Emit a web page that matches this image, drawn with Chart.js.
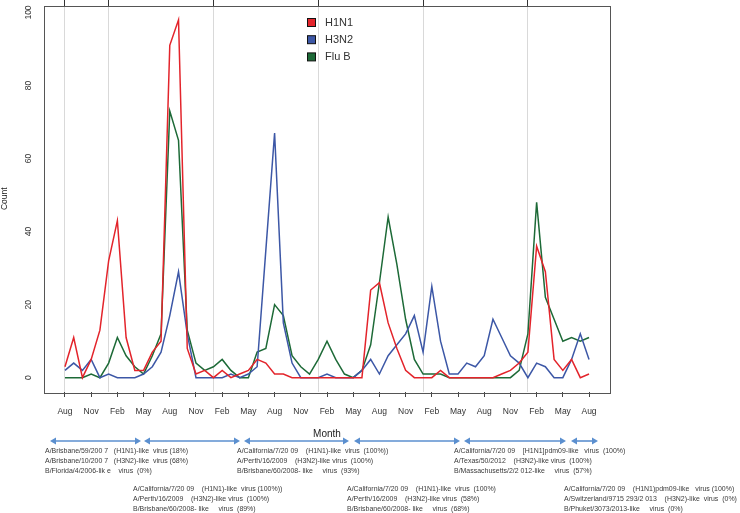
<!DOCTYPE html>
<html><head><meta charset="utf-8">
<script src="https://cdn.jsdelivr.net/npm/chart.js@4/dist/chart.umd.min.js"></script>
<style>html,body{margin:0;padding:0;background:#fff;}#wrap{width:740px;height:513px;}</style>
</head><body><div id="wrap"><canvas id="c" width="740" height="513"></canvas></div>
<script>
// ---- data (monthly, Aug .. Aug, 61 months) ----
const tickLabels = ['Aug','Nov','Feb','May','Aug','Nov','Feb','May','Aug','Nov','Feb','May','Aug','Nov','Feb','May','Aug','Nov','Feb','May','Aug'];
const yTickValues = [0,20,40,60,80,100];
const seriesNames = ['H1N1','H3N2','Flu B'];
const h1n1 = [3,11,0,5,13,32,43,11,2,2,7,10,91,98,8,1,2,0,2,0,1,2,5,4,1,1,0,0,0,0,0,0,0,0,0,24,26,15,8,2,0,0,0,2,0,0,0,0,0,0,1,2,4,7,36,29,5,2,5,0,1];
const h3n2 = [2,4,2,5,0,1,0,0,0,1,3,7,17,29,12,0,0,0,0,1,0,1,3,35,67,15,4,0,0,0,1,0,0,0,2,5,1,6,9,12,17,7,25,10,1,1,4,3,6,16,11,6,4,0,4,3,0,0,5,12,5];
const fluB = [0,0,0,1,0,4,11,6,3,1,6,12,73,65,13,4,2,3,5,2,0,0,7,8,20,17,6,3,1,5,10,5,1,0,2,9,26,44,31,16,5,1,1,1,0,0,0,0,0,0,0,0,2,12,48,22,16,10,11,10,11];
const yearLineMonths = [0,5,17,29,41,53];

// ---- annotation content ----
const noteGroups = [
  ['A/Brisbane/59/200 7   (H1N1)-like  virus (18%)','A/Brisbane/10/200 7   (H3N2)-like  virus (68%)','B/Florida/4/2006-lik e    virus  (0%)'],
  ['A/California/7/20 09    (H1N1)-like  virus (100%))','A/Perth/16/2009    (H3N2)-like virus  (100%)','B/Brisbane/60/2008- like     virus  (89%)'],
  ['A/California/7/20 09    (H1N1)-like  virus  (100%))','A/Perth/16/2009    (H3N2)-like virus  (100%)','B/Brisbane/60/2008- like     virus  (93%)'],
  ['A/California/7/20 09    (H1N1)-like  virus  (100%)','A/Perth/16/2009    (H3N2)-like virus  (58%)','B/Brisbane/60/2008- like     virus  (68%)'],
  ['A/California/7/20 09    [H1N1]pdm09-like   virus  (100%)','A/Texas/50/2012    (H3N2)-like virus  (100%)','B/Massachusetts/2/2 012-like     virus  (57%)'],
  ['A/California/7/20 09    (H1N1)pdm09-like   virus (100%)','A/Switzerland/9715 293/2 013    (H3N2)-like  virus  (0%)','B/Phuket/3073/2013-like     virus  (0%)']
];
// layout of annotations (pixels)
const noteLayout = [[45,451],[133,489],[237,451],[347,489],[454,451],[564,489]];
const arrowLayout = [[50,141],[144,240],[244,349],[354,460],[464,566],[571,598]];

const COLORS = ['#e3242b','#3c57a6','#1d6a37'];
const FONT = '"Liberation Sans", Arial, sans-serif';

const toXY = arr => arr.map((v,i)=>({x:i,y:v}));

const boxPlugin = {
  id:'box',
  afterDatasetsDraw(chart){
    const {ctx, chartArea:a} = chart;
    ctx.save();
    ctx.strokeStyle = '#555';
    ctx.lineWidth = 1;
    ctx.strokeRect(Math.round(a.left)+0.5, Math.round(a.top)+0.5, Math.round(a.right-a.left), Math.round(a.bottom-a.top));
    ctx.restore();
  }
};

const yLabelPlugin = {
  id:'ylabels',
  afterDraw(chart){
    const {ctx} = chart; const s = chart.scales.y;
    ctx.save();
    ctx.fillStyle = '#333';
    ctx.font = '8.5px ' + FONT;
    ctx.textAlign = 'center'; ctx.textBaseline = 'middle';
    yTickValues.forEach(v=>{
      const y = s.getPixelForValue(v);
      ctx.save(); ctx.translate(28.5, y); ctx.rotate(-Math.PI/2); ctx.fillText(String(v),0,0); ctx.restore();
    });
    ctx.restore();
  }
};

const legendPlugin = {
  id:'customLegend',
  afterDraw(chart){
    const {ctx} = chart;
    ctx.save();
    ctx.font = '11px ' + FONT;
    ctx.textBaseline = 'middle'; ctx.textAlign = 'left';
    chart.data.datasets.forEach((ds,i)=>{
      const cy = 22.5 + i*17.2;
      ctx.fillStyle = ds.borderColor;
      ctx.fillRect(307.5, cy-4, 8, 8);
      ctx.strokeStyle = '#111'; ctx.lineWidth = 1;
      ctx.strokeRect(307.5, cy-4, 8, 8);
      ctx.fillStyle = '#333';
      ctx.fillText(ds.label, 325, cy+0.5);
    });
    ctx.restore();
  }
};

const notesPlugin = {
  id:'notes',
  afterDraw(chart){
    const {ctx} = chart;
    ctx.save();
    // arrows
    const ay = 441;
    ctx.strokeStyle = '#5b8fcf'; ctx.fillStyle = '#5b8fcf'; ctx.lineWidth = 1.6;
    arrowLayout.forEach(([x1,x2])=>{
      const h = 6, w = 3.5;
      ctx.beginPath(); ctx.moveTo(x1+h-1, ay); ctx.lineTo(x2-h+1, ay); ctx.stroke();
      ctx.beginPath(); ctx.moveTo(x1, ay); ctx.lineTo(x1+h, ay-w); ctx.lineTo(x1+h, ay+w); ctx.closePath(); ctx.fill();
      ctx.beginPath(); ctx.moveTo(x2, ay); ctx.lineTo(x2-h, ay-w); ctx.lineTo(x2-h, ay+w); ctx.closePath(); ctx.fill();
    });
    // texts (narrow, like the pasted caption)
    ctx.fillStyle = '#3a3a3a';
    ctx.font = '8px ' + FONT;
    ctx.textAlign = 'left'; ctx.textBaseline = 'middle';
    const sx = 0.87;
    noteGroups.forEach((lines,g)=>{
      const [x,y] = noteLayout[g];
      lines.forEach((t,k)=>{
        ctx.save();
        ctx.translate(x, y + k*10);
        ctx.scale(sx, 1);
        ctx.fillText(t, 0, 0);
        ctx.restore();
      });
    });
    ctx.restore();
  }
};

new Chart(document.getElementById('c').getContext('2d'), {
  type:'line',
  data:{ datasets:[
    {label:seriesNames[0], data:toXY(h1n1), borderColor:COLORS[0], backgroundColor:COLORS[0]},
    {label:seriesNames[1], data:toXY(h3n2), borderColor:COLORS[1], backgroundColor:COLORS[1]},
    {label:seriesNames[2], data:toXY(fluB), borderColor:COLORS[2], backgroundColor:COLORS[2]}
  ]},
  options:{
    responsive:false, animation:false,
    elements:{line:{borderWidth:1.5, tension:0, fill:false}, point:{radius:0, hoverRadius:0}},
    layout:{padding:{left:0,right:130,top:0,bottom:0}},
    plugins:{legend:{display:false}, tooltip:{enabled:false}},
    scales:{
      x:{type:'linear', position:'bottom', min:-2.4, max:62.4,
        afterBuildTicks: s => { s.ticks = tickLabels.map((l,i)=>({value:i*3})); },
        ticks:{callback:(v)=>tickLabels[Math.round(v/3)], font:{size:8.5, family:FONT}, color:'#333', padding:10, maxRotation:0, minRotation:0, autoSkip:false},
        grid:{display:true, drawOnChartArea:false, drawTicks:true, tickLength:5, tickColor:'#444', color:'#444'},
        border:{display:false},
        title:{display:true, text:'Month', font:{size:10, family:FONT}, color:'#222', padding:{top:0,bottom:73}},
        afterFit: s => { s.height = 121; }
      },
      x2:{type:'linear', position:'top', min:-2.4, max:62.4,
        afterBuildTicks: s => { s.ticks = yearLineMonths.map(v=>({value:v})); },
        ticks:{display:false, padding:0},
        grid:{display:true, drawOnChartArea:true, drawTicks:true, tickLength:5.5, color:'#d9d9d9', lineWidth:1, tickColor:'#333'},
        border:{display:false},
        afterFit: s => { s.height = 5.5; }
      },
      y:{type:'linear', position:'left', min:-3.92, max:101.92,
        afterBuildTicks: s => { s.ticks = yTickValues.map(v=>({value:v})); },
        ticks:{display:false},
        grid:{display:false},
        border:{display:false},
        title:{display:true, text:'Count', font:{size:8.5, family:FONT}, color:'#222', padding:{top:0,bottom:0}},
        afterFit: s => { s.width = 44; }
      }
    }
  },
  plugins:[boxPlugin, yLabelPlugin, legendPlugin, notesPlugin]
});
</script></body></html>
